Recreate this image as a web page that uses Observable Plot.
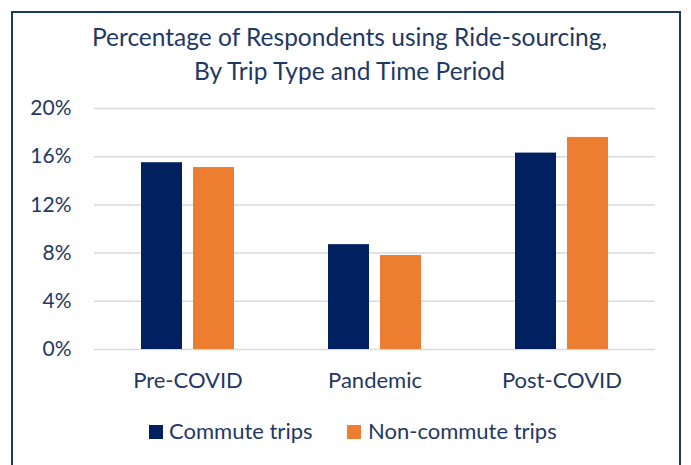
<!DOCTYPE html>
<html>
<head>
<meta charset="utf-8">
<script src="https://cdn.jsdelivr.net/npm/d3@7"></script>
<script src="https://cdn.jsdelivr.net/npm/@observablehq/plot@0.6"></script>
<style>
  html, body { margin: 0; padding: 0; background: #fff; width: 691px; height: 465px; overflow: hidden; }
  body { position: relative; font-family: Lato, "Open Sans", sans-serif; color: #1F3864; }
  #frame { position: absolute; left: 11px; top: 11px; width: 670px; height: 480px; border: 2px solid #1F3864; box-sizing: border-box; }
  #title { position: absolute; left: 4px; top: 20px; width: 691px; text-align: center; font-size: 24.5px; line-height: 34px; color: #1F3864; }
  #chart { position: absolute; left: 0; top: 90px; }
  .leg { position: absolute; font-size: 22px; line-height: 26px; color: #1F3864; white-space: nowrap; }
  .sw { position: absolute; width: 14px; height: 14px; }
</style>
</head>
<body>
<div id="frame"></div>
<div id="title">Percentage of Respondents using Ride-sourcing,<br>By Trip Type and Time Period</div>
<div id="chart"></div>
<div id="legend"></div>
<script>
const periods = ["Pre-COVID", "Pandemic", "Post-COVID"];
const series = ["Commute trips", "Non-commute trips"];
const commute = [15.5, 8.7, 16.3];
const nonCommute = [15.1, 7.8, 17.6];
const yTicks = [0, 4, 8, 12, 16, 20];
const colors = ["#002060", "#ED7D31"];

const rows = [];
periods.forEach((p, i) => {
  rows.push({period: p, series: series[0], value: commute[i]});
  rows.push({period: p, series: series[1], value: nonCommute[i]});
});

const textColor = "#1F3864";
const chart = Plot.plot({
  width: 691,
  height: 320,
  marginTop: 18,
  marginBottom: 61,
  marginLeft: 94,
  marginRight: 36,
  style: {fontFamily: "Lato, 'Open Sans', sans-serif", color: textColor, background: "transparent", overflow: "visible"},
  fx: {domain: periods, paddingInner: 0, paddingOuter: 0, axis: null, label: null},
  x: {domain: series, paddingInner: 0.2075, paddingOuter: 0.868, axis: null, label: null},
  y: {domain: [0, 20], axis: null, label: null},
  color: {domain: series, range: colors},
  marks: [
    Plot.ruleY(yTicks, {stroke: "#d9d9d9", strokeWidth: 1.5}),
    Plot.barY(rows, {fx: "period", x: "series", y: "value", fill: "series"}),
    Plot.axisY({ticks: yTicks, tickSize: 0, tickPadding: 23, fontSize: 21, tickFormat: d => d + "%", label: null, fill: textColor}),
    Plot.axisFx({anchor: "bottom", tickSize: 0, tickPadding: 23, fontSize: 22, label: null, fill: textColor})
  ]
});
document.getElementById("chart").appendChild(chart);

// legend
const legend = document.getElementById("legend");
const legPos = [{sw: 149, tx: 169}, {sw: 347, tx: 368}];
series.forEach((s, i) => {
  const sw = document.createElement("div");
  sw.className = "sw";
  sw.style.left = legPos[i].sw + "px";
  sw.style.top = "425px";
  sw.style.background = colors[i];
  legend.appendChild(sw);
  const t = document.createElement("div");
  t.className = "leg";
  t.style.left = legPos[i].tx + "px";
  t.style.top = "418px";
  t.textContent = s;
  legend.appendChild(t);
});
</script>
</body>
</html>
